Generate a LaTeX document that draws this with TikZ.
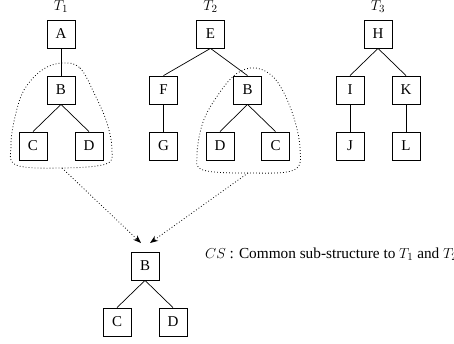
\documentclass[tikz,border=0pt]{standalone}
\usepackage{fontspec}
\setmainfont{Liberation Serif}
\usetikzlibrary{arrows.meta}
\begin{document}
\begin{tikzpicture}[x=1pt,y=-1pt,
  box/.style={draw, line width=0.8pt, minimum width=28pt, minimum height=28pt, inner sep=0pt, font=\fontsize{15}{18}\selectfont},
  lbl/.style={font=\fontsize{15.3}{18}\selectfont, inner sep=0pt},
  edge/.style={line width=0.7pt},
  blob/.style={line width=0.8pt, dash pattern=on 0.8pt off 2.2pt},
  link/.style={line width=0.8pt, dash pattern=on 0.8pt off 2.2pt, -{Stealth[length=8pt,width=6pt]}}]
\useasboundingbox (0,0) rectangle (454,343);
% T1
\node[lbl, anchor=base] (t1) at (61,10.5) {$T_1$};
\node[box] (A) at (61,34) {A};
\node[box] (B1) at (61,90) {B};
\node[box] (C1) at (33,146) {C};
\node[box] (D1) at (89,146) {D};
\draw[edge] (A) -- (B1);
\draw[edge] (B1.south) -- (C1.north);
\draw[edge] (B1.south) -- (D1.north);
% T2
\node[lbl, anchor=base] (t2) at (210.5,10.5) {$T_2$};
\node[box] (E) at (210.5,34) {E};
\node[box] (F) at (163.5,90) {F};
\node[box] (G) at (163.5,146) {G};
\node[box] (B2) at (247.5,90) {B};
\node[box] (D2) at (220,146) {D};
\node[box] (C2) at (275.5,146) {C};
\draw[edge] (E.south) -- (F.north);
\draw[edge] (E.south) -- (B2.north);
\draw[edge] (F) -- (G);
\draw[edge] (B2.south) -- (D2.north);
\draw[edge] (B2.south) -- (C2.north);
% T3
\node[lbl, anchor=base] (t3) at (378,10.5) {$T_3$};
\node[box] (H) at (378,34) {H};
\node[box] (I) at (350,90) {I};
\node[box] (K) at (406,90) {K};
\node[box] (J) at (350,146) {J};
\node[box] (L) at (406,146) {L};
\draw[edge] (H.south) -- (I.north);
\draw[edge] (H.south) -- (K.north);
\draw[edge] (I) -- (J);
\draw[edge] (K) -- (L);
% blobs
\draw[blob] plot[smooth cycle, tension=0.6] coordinates {(62,63) (80,68) (95,95) (107,123) (112,150) (106,164) (62,168) (16,165) (11,145) (15,117) (24,90) (42,70)};
\draw[blob] plot[smooth cycle, tension=0.6] coordinates {(256,68) (276,80) (292,112) (300,148) (294,170) (248,173) (203,170) (197,155) (203,122) (218,95) (236,74)};
% common sub-structure
\node[box] (B3) at (145,266) {B};
\node[box] (C3) at (117,322) {C};
\node[box] (D3) at (173,322) {D};
\draw[edge] (B3.south) -- (C3.north);
\draw[edge] (B3.south) -- (D3.north);
\coordinate (s1) at (62,168);
\coordinate (e1) at (141,243);
\coordinate (s2) at (248,173);
\coordinate (e2) at (150,243);
\draw[link] (s1) -- (e1);
\draw[link] (s2) -- (e2);
\node[lbl, anchor=base west] (cs) at (205,258) {$CS$ : Common sub-structure to $T_1$ and $T_2$};
\end{tikzpicture}
\end{document}
